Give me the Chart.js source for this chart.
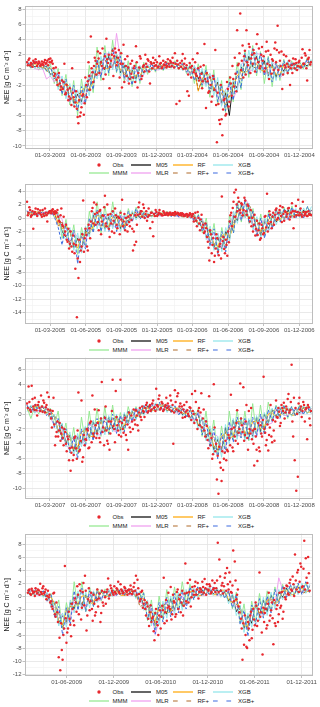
<!DOCTYPE html>
<html><head><meta charset="utf-8">
<script src="https://cdn.jsdelivr.net/npm/chart.js@4.4.1/dist/chart.umd.min.js"></script>
<style>
html,body{margin:0;padding:0;background:#fff;}
body{position:relative;width:320px;height:707px;overflow:hidden;font-family:"Liberation Sans",Arial,sans-serif;}
canvas{position:absolute;left:0;}
.lg{position:absolute;font-size:6px;line-height:8px;color:#1a1a1a;white-space:nowrap;}
.lk{position:absolute;line-height:0;font-size:0;}
.lk svg{display:block;}
</style></head><body>
<script>
// ---------------- DATA ----------------
const seriesNames = ['Obs','M05','RF','XGB','MMM','MLR','RF+','XGB+'];

// Panel 1: 2003-2004 (obs A every 4 days from 1 Jan 2003, obs B 2 days later; models every 10 days)
const p1_ticks = ['2003-03-01','2003-06-01','2003-09-01','2003-12-01','2004-03-01','2004-06-01','2004-09-01','2004-12-01'];
const p1_obs = [1.0,1.3,0.6,0.8,1.2,0.9,1.0,0.8,
0.9,0.7,0.8,1.0,0.8,1.2,1.4,
1.5,1.2,0.2,-0.5,-1.3,-1.0,-1.8,-2.2,
-2.5,0.8,-3.0,-2.6,-3.5,-3.8,0.2,
-3.6,-4.3,-5.1,-7.0,-6.1,-4.9,-3.2,-4.4,
-2.0,-1.5,-0.8,4.4,-0.3,0.5,1.2,
0.8,1.5,2.2,0.5,-1.2,1.8,4.1,0.9,
-2.4,1.2,2.5,1.8,2.3,1.0,2.6,0.8,
-2.3,3.3,1.4,-0.8,0.3,-1.2,-0.5,
-1.0,0.5,3.1,-2.3,0.3,1.5,-0.8,0.6,
2.0,0.4,1.2,-1.8,0.8,1.6,0.5,
0.6,0.3,1.8,0.9,0.4,0.7,1.0,0.5,
0.8,1.2,0.5,0.9,2.2,-4.5,0.7,-4.1,
0.4,2.1,0.8,0.2,-2.8,-3.4,0.3,
0.5,-0.3,1.0,-0.8,0.2,-1.0,-0.5,-1.5,3.4,
-5.0,-1.5,-2.8,-2.0,-3.5,-1.2,2.6,
-9.5,-4.5,-7.1,-6.5,-5.2,-3.8,-5.8,-2.5,
-4.2,-1.8,0.5,-2.2,-0.5,5.2,0.8,
7.4,1.2,-1.0,2.5,5.2,0.6,3.0,1.5,
0.8,2.2,1.5,4.7,2.8,0.5,3.0,
1.8,0.2,3.7,2.5,0.6,-0.5,1.2,2.8,
1.0,5.8,2.3,0.5,-2.5,2.0,0.3,0.8,
0.4,-2.0,0.6,1.5,0.2,0.9,0.5,
1.2,0.3,2.7,0.8,1.9,-1.4,1.6,0.7];
const p1_obsB = [0.6,1.5,0.9,0.4,1.0,1.4,0.5,1.1,
0.5,1.1,0.6,1.3,0.9,0.6,1.0,
1.0,0.8,-0.8,0.3,-2.0,-0.4,-2.6,-1.4,
-1.6,-3.2,-2.0,-4.0,-2.4,-4.6,-3.0,
-4.8,-2.8,-6.2,-4.0,-5.6,-3.4,-5.9,-1.0,
-3.6,1.0,-2.6,0.2,-1.6,1.6,-0.6,
2.4,-0.4,1.0,2.8,0.2,-0.6,1.4,2.0,
0.4,2.0,-0.8,2.8,0.6,1.6,-1.0,2.2,
0.8,-1.6,0.5,1.8,-1.8,0.8,1.2,
0.2,-1.6,1.0,-0.4,1.8,-1.2,0.4,-0.2,
0.8,1.4,-0.2,1.0,0.2,0.9,1.3,
1.0,0.4,0.8,0.2,1.2,0.6,0.3,1.4,
0.4,1.0,1.6,0.3,0.8,1.2,0.2,0.9,
1.2,0.1,1.5,0.6,-0.6,0.9,-1.0,
1.4,0.0,-0.5,2.2,-1.4,0.4,-2.4,0.6,-1.2,
-0.4,-3.0,-1.0,-4.2,-0.8,-2.6,-4.6,
-3.0,-6.6,-2.0,-8.6,-4.0,-6.0,-1.6,-4.8,
-1.0,-3.4,-1.2,1.6,-2.8,0.6,2.2,
0.0,3.2,1.8,-0.6,1.0,3.4,-0.4,2.0,
2.6,-0.2,3.4,1.0,0.2,2.0,1.2,
-0.2,2.4,0.8,-1.2,2.0,1.4,0.0,3.6,
2.6,0.0,1.2,2.4,-0.6,0.6,1.8,-0.4,
1.2,0.2,-0.4,0.8,1.4,0.0,1.0,
0.4,1.6,0.8,2.2,0.2,1.4,2.6,1.0];
const p1_xgbp = [1.1,0.3,1.2,0.2,0.8,-0.1,0.4,-1.2,-0.4,-3.2,
-1.2,-4.2,-2.0,-5.4,-2.2,-4.4,-0.6,-2.6,1.4,-1.0,
2.2,-0.4,2.8,-0.2,1.8,-1.2,0.6,-2.0,0.4,-1.4,
0.8,-0.4,0.8,-0.1,0.7,0.0,1.0,0.3,1.0,0.1,
0.8,-0.3,0.6,-1.4,0.4,-2.0,0.0,-3.0,-0.6,-4.2,
-2.0,-5.4,-1.6,-4.0,0.0,-2.4,2.2,-0.6,2.8,-0.4,
2.2,-0.8,1.6,-1.6,1.0,-1.0,1.2,-0.4,1.0,0.0,
1.0,0.2,1.4,0.6];
const p1_xgb = [0.4,1.1,0.2,0.9,0.0,0.7,-0.9,0.3,-2.6,-0.8,
-3.8,-1.8,-4.8,-2.6,-4.6,-1.6,-3.4,0.2,-1.2,1.8,
-0.6,2.4,0.0,2.2,-0.8,1.0,-1.6,0.4,-1.6,0.6,
-0.6,0.7,-0.1,0.7,0.0,0.8,0.2,1.1,0.2,0.9,
-0.1,0.6,-0.8,0.6,-1.6,0.2,-2.2,-0.4,-3.4,-1.0,
-4.8,-2.6,-4.4,-1.2,-3.0,0.8,-0.8,2.6,-0.2,2.4,
-0.4,1.8,-1.2,1.2,-1.4,0.8,-0.6,1.2,-0.1,0.9,
0.1,1.0,0.3,1.4];
const p1_mmm = [0.9,0.2,1.0,0.0,0.8,-0.2,0.8,-1.8,0.2,-3.4,
-0.6,-4.6,-1.4,-6.0,-1.2,-4.6,0.6,-3.0,3.0,-1.4,
3.2,-0.8,3.9,-0.4,2.4,-1.6,1.2,-2.2,1.0,-1.8,
1.0,-0.6,1.1,-0.3,0.9,-0.1,1.1,0.2,1.2,0.0,
1.0,-0.5,0.9,-1.8,0.8,-2.4,0.6,-3.6,0.0,-4.6,
-1.4,-5.6,-0.8,-4.2,1.0,-2.6,2.6,-1.0,3.2,-0.8,
2.4,-1.8,1.8,-2.2,1.2,-1.4,1.4,-0.6,1.2,-0.1,
1.2,0.1,1.6,0.4];
const p1_m05 = [0.6,0.9,0.4,0.7,0.2,0.5,-0.6,-0.3,-2.2,-1.2,
-3.4,-2.2,-4.4,-3.2,-4.2,-2.0,-2.8,-0.2,-0.8,1.2,
0.0,1.8,0.4,1.8,-0.4,0.6,-1.2,0.0,-1.2,0.4,
-0.4,0.5,0.0,0.6,0.1,0.7,0.3,0.9,0.3,0.7,
0.1,0.4,-0.6,0.3,-1.2,-0.2,-1.8,-0.8,-2.8,-1.6,
-4.4,-3.0,-6.0,-1.6,-2.4,0.4,-0.4,1.8,0.4,1.8,
0.0,1.2,-0.8,0.8,-1.0,0.6,-0.2,1.0,0.0,0.8,
0.2,0.9,0.5,1.2];
const p1_mlr = [0.9,0.6,0.2,0.0,0.2,-1.2,-0.8,-1.6,-0.6,-1.2,
-3.4,-4.2,-2.6,-2.8,-4.6,-3.8,-1.0,0.0,-0.8,-0.6,
2.0,2.2,0.2,4.8,1.4,-1.0,-1.6,0.4,0.2,-1.4,
-0.6,0.6,0.8,0.0,0.0,0.7,0.9,0.4,0.3,0.8,
0.8,-0.2,-0.5,0.4,0.0,-1.6,-2.0,-0.6,-1.0,-3.4,
-4.6,-2.6,-2.0,-3.8,-2.6,0.6,1.4,-0.2,0.0,2.2,
2.0,-0.4,-0.6,1.0,0.6,-1.0,-0.6,1.2,0.9,0.0,
0.1,0.9,1.1,0.6];
const p1_rf = [0.6,0.5,0.8,0.7,0.3,0.1,0.2,-0.4,-2.0,-2.6,
-1.8,-2.2,-4.0,-4.4,-2.8,-2.2,-2.6,-1.6,0.4,1.0,
0.2,0.2,1.6,1.4,0.0,-0.4,0.0,-0.2,-0.8,-0.8,
0.2,0.4,0.1,0.1,0.5,0.6,0.4,0.4,0.7,0.7,
0.3,0.1,0.3,0.1,-2.8,-1.2,-0.4,-0.8,-2.6,-3.0,
-2.6,-3.0,-3.6,-2.2,-0.8,-0.2,-0.4,0.0,0.8,0.8,
0.0,-0.2,0.4,0.4,-0.6,-0.6,0.6,0.6,0.2,0.2,
0.6,0.6,0.4,0.8];
const p1_rfp = [1.0,0.5,0.3,0.7,0.6,0.0,-0.6,-0.5,-1.8,-2.4,
-1.8,-3.6,-4.0,-3.2,-3.0,-3.6,-1.4,-0.4,-0.8,1.2,
1.4,0.2,0.4,2.0,1.0,-0.8,0.2,-1.2,-1.0,0.2,
0.4,-0.1,0.3,0.7,0.2,0.2,0.8,0.9,0.4,0.3,
0.6,0.2,-0.3,0.1,-2.6,-1.4,-0.4,-2.4,-2.6,-1.6,
-3.0,-4.6,-3.4,-1.6,-1.0,-1.2,1.0,1.6,0.4,0.2,
1.4,1.0,-0.4,-0.6,0.4,0.6,-0.2,0.2,0.8,0.6,
0.2,0.4,1.0,0.9];

// Panel 2: 2005-2006
const p2_ticks = ['2005-03-01','2005-06-01','2005-09-01','2005-12-01','2006-03-01','2006-06-01','2006-09-01','2006-12-01'];
const p2_obs = [2.4,0.8,1.2,0.4,-1.6,0.9,0.6,1.3,
0.7,0.5,1.2,0.3,0.8,-0.5,0.9,
1.0,1.1,0.9,1.0,0.8,0.2,-0.6,1.4,
-1.2,-2.5,-1.0,-3.5,-4.5,-2.0,-5.0,
-3.8,-7.5,-14.7,-8.9,-6.5,-4.2,2.6,-3.0,
-2.5,-4.8,-1.5,-0.5,1.5,2.3,-1.0,
0.8,-1.8,1.2,-0.5,0.3,3.3,-1.2,0.5,
-2.8,-0.8,1.0,-2.2,0.4,-1.5,0.0,0.8,
2.7,-0.5,-1.8,-1.0,0.2,-1.2,-0.3,
-4.8,-4.0,-3.5,0.5,2.3,1.0,0.2,1.5,
0.6,-0.4,1.4,-1.5,0.8,-2.7,0.3,
0.9,0.5,1.2,0.6,0.4,0.8,0.5,0.7,
0.6,0.8,0.5,0.7,0.9,0.6,0.7,0.5,
0.4,0.6,0.3,0.5,0.2,0.4,0.6,
0.3,-0.5,0.8,-1.2,0.0,-1.8,0.5,-1.0,
-2.0,-1.5,-3.5,-6.3,-2.4,-4.0,-6.5,
-4.5,-3.0,-5.5,-3.8,3.2,-2.8,-5.2,-4.0,
-2.0,-0.5,0.8,1.5,3.8,4.2,1.0,
2.4,0.8,2.0,1.2,2.6,0.5,1.8,-0.5,
-1.2,-2.0,0.5,-1.6,-2.5,-0.8,-3.0,-1.5,
-2.2,0.3,3.6,-0.8,0.5,-1.5,0.8,
0.5,1.4,0.0,1.2,0.3,1.6,-0.4,0.9,
0.6,1.5,0.2,2.2,-1.5,1.0,0.4,
2.7,0.8,0.5,2.4,0.4,0.9,0.3,0.6,0.5];
const p2_obsB = [0.4,1.6,0.2,1.0,0.6,1.4,0.3,0.8,
1.1,0.2,0.6,1.4,0.4,0.7,1.0,
0.7,1.3,0.6,0.9,1.2,-0.4,0.4,-1.0,
0.2,-2.0,-3.2,-1.6,-3.8,-4.2,-2.6,
-5.2,-4.0,-6.0,-3.2,-4.8,-2.4,-5.0,-1.6,
-4.2,-1.0,-3.0,1.0,-0.8,0.6,2.0,
-0.6,1.0,-2.4,0.4,1.6,-0.8,2.0,-1.6,
0.6,-2.0,-0.4,1.4,-1.0,0.2,-2.4,-0.2,
-1.2,0.6,0.0,-2.0,-0.6,0.4,-1.6,
-2.0,0.4,-1.0,1.6,0.6,1.0,2.0,0.0,
1.0,0.2,0.4,0.8,-0.6,0.6,1.2,
0.3,0.8,0.6,0.4,1.0,0.5,0.8,0.4,
0.8,0.5,0.7,0.4,0.6,0.8,0.5,0.7,
0.7,0.3,0.5,0.6,0.4,0.7,0.2,
0.6,0.0,-0.4,0.9,-0.8,-0.2,-1.4,-2.2,
-0.8,-2.8,-4.4,-1.8,-5.2,-3.0,-5.6,
-2.4,-5.0,-4.2,-6.0,-3.4,-4.6,-3.2,-5.6,
-3.6,0.4,-1.2,2.4,0.2,2.0,3.0,
1.2,2.2,0.4,3.0,1.0,2.0,0.0,1.2,
0.0,-1.0,-2.6,-0.4,-1.8,-3.2,-1.0,-2.4,
0.2,-1.4,-2.0,1.0,-0.6,0.2,-1.0,
1.2,-0.2,0.8,1.8,-0.6,0.6,1.0,0.2,
1.4,-0.2,0.8,1.0,0.2,1.8,0.9,
0.4,1.4,0.2,0.9,0.6,0.3,1.0,0.5,0.4];
const p2_xgbp = [1.1,0.3,1.0,0.4,1.0,0.4,1.2,0.2,-1.4,-4.0,
-0.8,-4.2,-1.8,-6.8,-2.2,-4.6,0.0,-2.2,1.2,-2.0,
0.6,-2.0,1.0,-2.0,0.4,-1.8,1.0,-0.6,1.4,-0.2,
0.8,0.0,0.9,0.2,0.9,0.3,0.9,0.2,0.8,0.1,
0.7,0.0,0.6,-0.6,0.4,-2.0,-0.6,-4.2,-1.6,-5.4,
-2.0,-5.0,-0.4,-2.2,2.2,-0.4,2.8,-0.8,1.0,-2.8,
0.0,-3.0,0.6,-1.6,1.2,-0.6,1.4,-0.2,1.6,0.0,
1.4,0.0,1.7,0.3];
const p2_xgb = [0.5,1.0,0.3,1.0,0.3,1.0,0.5,1.0,0.6,-2.4,
-3.2,-1.4,-4.8,-2.2,-5.2,-1.2,-2.8,1.0,-1.6,1.0,
-2.0,0.6,-1.6,0.8,-2.0,0.6,-1.0,1.1,-0.3,1.2,
0.0,0.8,0.1,0.9,0.3,0.9,0.3,0.8,0.2,0.7,
0.1,0.6,-0.1,0.6,-1.2,0.0,-3.2,-1.2,-4.8,-2.2,
-5.0,-1.4,-3.4,1.0,-0.8,2.4,0.0,2.2,-1.8,0.2,
-3.0,0.0,-2.0,0.8,-1.0,1.2,-0.4,1.6,0.0,1.4,
0.0,1.5,0.2,1.7];
const p2_mmm = [0.9,0.3,0.9,0.4,1.0,0.4,1.2,0.1,0.8,-3.0,
-0.2,-4.4,-1.0,-5.4,-1.4,-4.2,1.0,-2.0,2.4,-2.2,
1.8,-1.8,2.4,-1.8,1.2,-1.8,1.4,-0.4,1.6,0.0,
1.0,0.0,1.1,0.2,1.0,0.3,1.0,0.3,0.8,0.2,
0.7,0.1,0.6,-0.6,0.6,-2.2,0.0,-3.8,-0.8,-5.0,
-1.4,-4.6,0.4,-2.2,2.4,-0.6,2.8,-0.8,1.4,-2.6,
0.6,-2.6,1.0,-1.4,1.4,-0.6,1.6,-0.2,1.8,0.1,
1.4,0.2,1.7,0.4];
const p2_m05 = [0.7,0.9,0.5,0.9,0.4,0.9,0.7,0.8,0.4,-2.0,
-2.8,-1.8,-4.4,-3.0,-4.6,-1.8,-2.4,0.4,-1.0,0.4,
-1.6,0.2,-1.2,0.2,-1.6,0.2,-0.6,0.8,0.0,0.9,
0.2,0.6,0.3,0.7,0.4,0.8,0.4,0.7,0.3,0.6,
0.2,0.5,0.0,0.4,-1.0,-0.4,-2.8,-1.8,-4.4,-2.8,
-4.6,-2.0,-3.0,0.4,-0.4,2.0,0.2,1.8,-1.4,-0.2,
-2.6,-0.4,-1.6,0.4,-0.6,1.0,-0.2,1.2,0.2,1.0,
0.2,1.2,0.3,1.2];
const p2_mlr = [1.0,0.7,0.4,0.4,0.8,0.9,0.6,0.5,0.6,-0.2,
-2.6,-3.6,-2.2,-2.8,-4.6,-3.6,-0.8,0.2,-1.0,-1.2,
0.2,0.4,-1.2,-1.4,0.2,0.2,-0.8,-0.2,0.9,1.0,
0.1,0.1,0.7,0.8,0.3,0.3,0.8,0.8,0.3,0.2,
0.6,0.6,0.0,-0.2,0.2,-0.2,-2.8,-3.6,-2.6,-2.4,
-4.4,-4.2,-1.0,0.6,0.0,0.0,2.8,2.0,-1.4,-2.2,
-0.6,-0.4,-1.8,-1.4,0.6,0.8,-0.2,-0.1,1.2,1.2,
0.2,0.3,1.0,1.0];
const p2_rf = [0.6,0.6,0.9,0.9,0.4,0.4,1.0,1.0,-0.8,-1.6,
-1.2,-2.0,-4.0,-4.4,-2.8,-2.2,-2.2,-1.2,0.4,0.2,
-1.4,-1.2,0.2,0.0,-1.2,-1.0,0.4,0.6,0.2,0.2,
0.5,0.5,0.3,0.3,0.7,0.7,0.4,0.4,0.6,0.6,
0.2,0.2,0.4,0.4,-0.8,-1.4,-1.4,-2.2,-3.8,-4.2,
-2.6,-2.4,-2.8,-1.2,1.0,1.4,0.4,0.2,0.2,-0.4,
-2.0,-1.8,-0.2,0.2,-0.4,-0.2,0.8,0.8,0.4,0.4,
0.8,0.8,0.4,0.5];
const p2_rfp = [1.0,0.4,0.5,0.9,0.8,0.5,0.7,0.9,-1.2,-0.6,
-2.8,-3.6,-2.6,-3.2,-4.4,-2.0,-2.2,0.2,-0.8,-1.2,
0.0,-0.2,-1.0,0.2,-0.2,-1.2,-0.4,0.8,0.8,0.0,
0.6,0.3,0.3,0.8,0.7,0.4,0.4,0.8,0.7,0.2,
0.2,0.6,0.5,-0.2,-1.0,-0.4,-1.2,-3.6,-4.2,-2.8,
-3.2,-4.4,-1.2,-1.0,1.6,0.4,0.0,2.0,0.6,-2.0,
-2.4,-0.2,-0.4,-1.2,0.6,0.8,-0.2,0.6,1.2,0.4,
0.2,1.0,0.8,0.4];

// Panel 3: 2007-2008
const p3_ticks = ['2007-03-01','2007-06-01','2007-09-01','2007-12-01','2008-03-01','2008-06-01','2008-09-01','2008-12-01'];
const p3_obs = [1.4,3.7,0.6,3.8,1.0,2.2,0.5,1.2,
0.8,2.5,0.3,1.5,0.9,2.9,2.3,
0.5,-1.8,2.2,-4.2,-2.4,-3.0,-1.2,-2.6,
-3.2,-2.0,-4.0,-3.0,-6.2,-7.6,-4.5,
-5.5,-3.0,-6.0,2.9,-4.8,1.8,-5.8,-4.2,
-3.5,-2.2,-4.5,-1.0,2.5,-3.0,-1.5,
-2.6,0.5,-3.8,4.3,-1.8,-0.5,-2.2,-4.0,
-4.8,-1.0,4.6,-2.0,3.1,-1.5,-2.8,4.6,
-1.2,-2.5,-0.5,-3.5,-4.8,-1.8,-0.2,
-2.0,-0.8,0.5,-1.5,0.2,-0.4,1.0,0.3,
0.8,1.5,0.4,1.2,0.6,1.8,0.9,
3.4,1.0,2.5,0.8,1.4,0.6,1.2,0.8,
1.0,2.5,0.4,-4.0,3.2,0.6,2.8,1.0,
0.2,-0.5,1.2,0.3,0.5,-0.3,0.8,
2.7,0.0,3.1,-0.8,0.4,-1.5,2.8,-0.6,
-2.2,-1.0,-3.5,2.4,-4.2,-6.0,4.0,-5.0,
-8.8,-10.7,-6.5,-9.0,-7.5,-5.2,-6.2,
-5.0,-3.2,2.6,-4.5,-1.8,-3.6,0.5,-2.5,
4.1,-1.5,3.6,-2.8,1.2,-4.8,-2.0,0.8,
-2.2,-6.9,-3.0,-6.3,-4.5,-1.5,-3.0,
5.0,-2.5,-3.5,-4.9,-1.8,-3.0,-0.8,-3.6,
1.8,-0.5,0.3,-1.2,0.8,1.5,0.2,0.6,
2.7,0.5,6.6,-3.0,-6.2,-10.3,-8.4,
2.2,1.0,0.4,1.2,0.6,-3.4,0.9,-1.5];
const p3_obsB = [0.8,1.6,0.3,2.0,0.6,1.2,-0.2,1.6,
0.4,1.0,1.8,0.2,1.2,0.6,0.0,
-0.6,0.4,-1.4,-3.0,-1.0,-2.2,-3.6,-1.8,
-4.2,-2.4,-5.0,-3.4,-4.6,-5.2,-6.2,
-3.2,-4.6,-2.2,-5.0,-3.6,-6.4,-2.8,-3.4,
-2.0,-4.6,-1.2,-3.8,-2.6,0.6,-3.2,
-1.2,-3.2,-0.6,-2.4,-4.2,1.0,-3.6,-1.0,
-2.6,0.4,-1.6,-3.8,-0.4,-2.2,-1.0,-3.0,
-2.0,-0.8,-2.8,-1.4,0.2,-2.4,-1.0,
0.6,-1.4,-0.2,-2.2,0.8,-0.8,0.4,-0.4,
1.2,0.2,1.0,0.4,1.4,0.8,0.4,
1.2,2.0,0.6,1.6,0.4,1.0,2.2,1.4,
0.6,1.8,1.2,0.2,1.6,2.4,0.4,1.4,
1.0,0.6,-0.4,1.6,0.0,0.9,-0.8,
0.4,-1.2,1.6,-2.0,0.8,0.2,-1.8,0.6,
-3.0,-1.6,-4.6,-2.6,-3.2,-5.4,-1.8,-4.0,
-5.6,-4.4,-7.2,-5.0,-6.0,-3.6,-4.8,
-2.8,-4.2,-2.0,-5.0,-3.0,-1.2,-4.0,-2.0,
-0.6,-2.4,-3.6,-1.0,-3.2,0.4,-2.6,-3.4,
-4.0,-2.0,-4.8,-1.2,-5.0,-2.6,-0.8,
-2.0,-4.2,-1.4,-2.8,1.2,-3.8,-2.2,-1.0,
-0.4,0.8,-1.6,1.2,0.4,-0.6,1.0,2.0,
0.2,1.6,-1.0,2.2,0.8,0.0,1.4,
0.6,-0.4,1.6,-1.0,0.8,1.2,-0.6,0.4];
const p3_xgbp = [1.2,0.2,1.3,0.4,1.0,-0.2,0.6,-1.8,-0.6,-3.6,
-2.0,-5.2,-3.0,-6.0,-2.0,-4.4,-1.0,-3.6,-0.6,-2.8,
-0.2,-2.6,0.0,-2.6,-0.2,-2.4,0.4,-1.0,0.8,-0.4,
1.2,0.0,1.4,0.3,1.6,0.3,1.3,0.2,1.1,-0.1,
0.8,-0.5,0.6,-1.2,0.2,-2.8,-0.8,-4.4,-2.0,-6.0,
-2.6,-5.2,-1.0,-3.8,-0.4,-3.2,-0.6,-3.4,-0.4,-3.0,
0.0,-2.8,0.6,-1.0,1.0,-0.6,1.2,-0.4,1.0,-0.3,
1.1,-0.1,1.0,0.1];
const p3_xgb = [0.3,1.2,0.1,1.3,0.1,1.0,-0.8,0.0,-2.6,-1.2,
-4.4,-2.4,-5.6,-2.6,-4.4,-1.6,-3.6,-0.8,-3.0,-0.4,
-2.8,-0.2,-2.4,0.0,-2.6,0.2,-1.4,0.6,-0.8,1.0,
-0.2,1.3,0.2,1.5,0.4,1.4,0.2,1.2,0.1,0.9,
-0.3,0.7,-0.8,0.4,-2.0,-0.4,-3.6,-1.6,-5.4,-3.0,
-5.8,-1.4,-4.0,-0.6,-3.4,-0.4,-3.6,-0.6,-3.4,-0.2,
-2.8,0.2,-1.4,0.8,-0.6,1.0,-0.2,0.9,-0.3,0.9,
-0.1,1.1,0.0,1.0];
const p3_mmm = [0.9,-0.6,1.1,0.0,1.2,0.0,0.8,-1.6,0.4,-3.4,
-1.2,-5.0,-1.8,-5.4,-0.4,-4.0,0.4,-3.4,0.8,-3.0,
1.0,-2.8,1.2,-2.4,0.2,-2.2,1.0,-0.8,1.0,-0.2,
1.1,0.1,1.3,0.4,1.4,0.3,1.2,0.2,1.0,-0.1,
0.7,-0.4,0.6,-1.0,0.8,-3.0,0.4,-4.0,-0.8,-5.6,
-1.6,-4.8,0.4,-3.4,0.6,-3.2,0.4,-3.6,1.4,-2.8,
1.2,-2.4,1.6,-0.8,1.2,-0.4,1.2,-0.6,1.0,-0.2,
1.2,0.0,1.1,0.1];
const p3_m05 = [0.6,1.0,0.4,1.1,0.3,0.8,-0.5,-0.2,-2.4,-1.4,
-4.0,-2.8,-5.0,-3.0,-4.0,-1.8,-3.2,-1.0,-2.6,-0.6,
-2.4,-0.4,-2.0,-0.2,-2.2,0.0,-1.2,0.4,-0.6,0.8,
0.0,1.1,0.4,1.3,0.6,1.2,0.4,1.0,0.3,0.7,
-0.1,0.5,-0.6,0.2,-1.6,-0.6,-3.2,-2.0,-4.8,-3.4,
-5.0,-1.8,-3.6,-0.8,-3.0,-0.6,-3.2,-0.8,-3.0,-0.4,
-2.4,0.0,-1.2,0.6,-0.4,0.8,0.0,0.7,-0.2,0.7,
0.1,0.9,0.1,0.8];
const p3_mlr = [1.0,0.6,0.2,0.4,1.0,0.8,-0.6,-1.4,-1.0,-2.0,
-4.2,-4.6,-3.4,-3.0,-4.0,-3.6,-1.4,-1.6,-2.8,-2.8,
-0.6,-0.8,-2.2,-2.4,-0.4,-0.6,-1.4,-1.0,0.6,0.6,
0.2,0.2,1.2,1.2,0.6,0.6,1.2,1.1,0.2,0.1,
0.7,0.5,-0.6,-0.8,0.2,-0.6,-3.4,-3.8,-2.6,-3.0,
-5.0,-4.4,-1.6,-1.8,-2.8,-3.0,-0.8,-1.2,-2.8,-3.0,
-0.4,-0.6,-1.4,-1.2,0.6,0.6,-0.2,-0.2,0.6,0.6,
0.0,0.2,0.8,0.7];
const p3_rf = [0.5,0.4,1.0,1.0,0.4,0.2,0.4,-0.2,-2.2,-2.8,
-2.4,-3.0,-4.8,-4.6,-2.4,-2.2,-3.0,-3.0,-1.0,-1.0,
-2.2,-2.0,-0.6,-0.6,-2.0,-1.6,0.0,0.2,-0.4,-0.2,
0.8,0.8,0.5,0.5,1.2,1.2,0.5,0.5,0.8,0.8,
0.1,0.1,0.4,0.3,-1.4,-1.8,-1.4,-2.2,-4.4,-4.8,
-3.0,-2.6,-3.2,-3.0,-1.0,-1.0,-2.6,-2.6,-1.0,-1.0,
-2.0,-1.8,0.0,0.2,-0.4,-0.2,0.8,0.7,-0.2,-0.1,
0.8,0.8,0.2,0.3];
const p3_rfp = [1.1,0.3,0.4,1.0,0.9,0.2,-0.6,-0.2,-1.0,-3.0,
-3.8,-3.0,-3.4,-4.4,-3.8,-2.0,-1.8,-2.8,-2.4,-1.0,
-1.0,-2.0,-1.8,-0.6,-0.8,-1.6,-1.0,0.4,0.4,-0.2,
0.2,0.9,1.0,0.5,0.6,1.3,1.1,0.3,0.4,0.8,
0.6,-0.2,-0.4,0.2,-0.2,-2.2,-2.8,-2.4,-3.2,-4.8,
-4.6,-2.4,-2.0,-3.0,-2.4,-1.0,-1.4,-2.8,-2.4,-0.8,
-1.0,-1.8,-1.2,0.4,0.6,-0.2,0.0,0.8,0.6,-0.1,
0.2,0.9,0.8,0.2];

// Panel 4: 2009-2011 (obs A every 6 days from 1 Jan 2009, obs B 3 days later; models every 15 days)
const p4_ticks = ['2009-06-01','2009-12-01','2010-06-01','2010-12-01','2011-06-01','2011-12-01'];
const p4_obs = [0.5,1.0,0.2,0.8,0.6,1.2,
0.4,0.9,1.9,0.3,
1.5,0.6,-0.5,0.8,0.2,
-0.8,-2.0,0.5,-3.2,-2.5,
-9.4,-11.4,-8.3,-6.0,4.6,-7.2,
-5.0,-3.5,-6.2,-2.0,-4.5,
-1.0,1.5,-2.8,0.8,-1.8,
2.0,3.1,-5.3,-0.5,-2.2,
0.5,-3.8,-1.2,-2.5,1.0,
-0.4,-4.0,0.8,-1.5,-0.2,
0.6,2.7,0.2,1.2,0.5,
1.5,0.4,1.0,0.6,1.8,
0.8,0.5,1.2,0.6,0.9,0.4,
1.0,0.7,2.0,3.1,
2.5,0.3,-0.5,0.8,-1.2,
-2.0,-1.0,-3.5,-2.5,-4.0,
-3.2,-6.8,-2.0,-4.5,-3.0,
-5.0,-1.5,2.8,-2.5,-3.8,
0.5,-2.0,-3.6,0.2,-1.0,-2.8,
1.0,-0.5,-2.5,0.8,-1.5,
5.0,0.5,-1.0,2.5,-0.2,
0.8,1.5,0.2,2.0,0.6,
1.0,2.2,0.5,1.2,1.8,
0.8,1.5,0.6,1.0,2.0,
1.2,8.2,5.6,0.8,2.0,
1.5,3.5,4.3,1.0,2.2,
0.5,7.0,5.3,-0.5,1.0,
-2.5,-3.5,-9.8,-7.5,-6.0,
-8.0,-5.0,-3.0,-6.5,-2.0,-4.5,
-1.5,-3.8,3.6,-2.5,-9.0,
-4.0,-2.0,-4.5,0.5,-3.0,
-1.0,-7.4,-4.2,-2.0,-4.0,
0.5,-1.5,-3.5,1.2,-0.5,
1.5,0.2,2.5,0.8,1.8,
6.4,1.0,4.0,2.2,4.5,
1.5,8.5,5.8,2.0,3.5];
const p4_obsB = [0.9,0.3,1.1,0.5,0.0,0.7,
1.0,0.2,0.6,1.2,
0.4,1.0,0.0,-0.2,-1.0,
-1.6,0.4,-2.8,-1.0,-4.0,
-6.4,-4.2,-9.8,-5.0,-3.4,-5.6,
-2.4,-4.4,-1.2,-3.8,-0.4,
-2.4,0.2,1.8,-3.6,0.6,
-1.4,0.8,-3.0,1.2,-0.8,
-2.0,0.2,-3.0,-0.6,-1.6,
0.4,-2.6,-1.0,0.6,-1.2,
1.0,-0.4,1.6,0.8,0.2,
0.6,1.2,2.2,0.4,1.0,
0.4,1.4,0.8,0.2,1.0,1.6,
0.3,1.4,0.8,0.2,
1.2,-0.8,0.6,-1.8,-0.6,
-3.0,-1.6,-4.6,-1.4,-3.4,
-5.4,-2.6,-4.0,-6.0,-2.2,
-3.2,-2.2,-4.2,-0.6,-1.8,
-1.6,1.4,-2.8,-0.8,-3.2,0.6,
-2.0,0.2,-1.0,-3.0,0.4,
-0.8,2.0,0.6,-1.6,1.4,
0.2,2.2,1.0,-0.4,1.2,
0.6,1.4,2.6,0.2,1.0,
1.8,0.4,2.4,1.2,0.6,
2.4,0.6,3.0,1.6,0.4,
2.8,0.8,1.8,3.6,0.6,
1.6,-0.8,2.4,0.2,-1.6,
-1.0,-5.0,-4.2,-3.0,-7.8,
-4.0,-6.8,-2.4,-5.2,-3.6,-1.0,
-4.6,-2.0,-3.2,-5.6,-1.8,
-2.6,-5.0,-1.2,-3.8,-2.2,
-3.4,-0.6,-4.6,-1.4,-2.8,
-1.8,0.6,-2.4,-0.2,1.6,
0.4,2.0,1.0,3.0,0.0,
2.4,3.6,0.6,5.0,1.4,
4.2,1.0,2.8,6.0,0.8];
const p4_xgbp = [0.9,0.2,1.0,0.0,0.8,-0.8,0.2,-3.4,-1.6,-6.0,
-1.8,-4.4,0.8,-2.2,1.2,-2.4,0.8,-1.6,0.8,-0.6,
0.9,-0.1,1.0,0.1,1.1,0.2,1.1,0.1,1.0,-1.0,
0.4,-3.6,-1.4,-5.8,-1.0,-4.0,-0.2,-3.2,0.4,-2.6,
0.8,-2.0,1.4,-0.6,1.4,0.1,1.3,0.2,1.4,0.1,
1.1,-0.4,0.8,-1.8,0.2,-4.4,-2.2,-6.2,-1.4,-4.4,
-0.4,-3.4,0.0,-2.6,1.0,-1.2,1.6,-0.2,1.8,0.0,
2.0,0.2,2.2,0.4];
const p4_xgb = [0.2,1.0,0.1,0.9,-0.2,0.6,-1.8,-0.8,-4.6,-2.6,
-4.8,-0.6,-2.6,0.8,-2.2,0.6,-1.8,0.8,-1.0,1.0,
-0.3,1.0,-0.1,1.1,0.1,1.1,0.2,1.0,-0.4,0.8,
-2.2,-0.6,-4.6,-2.2,-4.4,-0.8,-3.4,0.0,-2.8,0.6,
-2.2,1.0,-1.0,1.2,-0.2,1.3,0.2,1.4,0.1,1.3,
-0.2,1.0,-1.2,0.4,-3.0,-1.4,-5.6,-2.6,-4.8,-1.0,
-3.8,-0.2,-3.0,0.6,-2.0,1.0,-0.6,1.6,0.0,1.8,
0.2,2.0,0.4,1.8];
const p4_mmm = [0.7,0.1,0.9,0.2,0.8,-0.6,0.4,-3.0,-0.6,-5.0,
-1.0,-3.8,2.2,-2.0,2.2,-2.4,1.4,-1.6,1.2,-0.8,
1.1,-0.1,1.1,0.1,1.1,0.2,1.1,0.1,0.8,-0.6,
0.6,-3.8,-0.6,-5.0,0.0,-3.6,1.0,-2.8,1.4,-2.2,
2.2,-1.2,1.8,-0.4,1.4,0.1,1.2,0.3,1.2,0.2,
1.0,-0.2,0.6,-2.0,0.6,-4.2,-1.2,-5.4,-0.8,-4.0,
0.4,-3.2,0.8,-2.4,1.4,-1.0,1.8,-0.2,1.6,0.2,
1.8,0.4,2.0,0.5];
const p4_m05 = [0.3,0.9,0.2,0.7,0.0,0.4,-1.4,-1.0,-4.2,-3.0,
-4.2,-1.0,-2.0,0.4,-1.6,0.2,-1.2,0.6,-0.6,0.8,
-0.1,0.8,0.1,0.9,0.2,0.9,0.3,0.8,-0.2,0.5,
-1.6,-1.0,-4.0,-2.6,-3.8,-1.2,-2.8,-0.4,-2.2,0.2,
-1.6,0.6,-0.6,0.9,0.1,1.0,0.3,1.1,0.3,1.0,
0.0,0.7,-0.8,0.2,-2.4,-1.6,-5.0,-3.0,-4.2,-1.2,
-3.0,-0.6,-2.4,0.2,-1.4,0.6,-0.2,1.2,0.3,1.4,
0.5,1.5,0.6,1.5];
const p4_mlr = [0.8,0.7,0.2,0.1,0.6,0.4,-1.4,-1.8,-2.4,-3.0,
-4.2,-3.4,-0.2,0.2,-1.6,-1.6,0.4,0.2,-0.8,-0.6,
0.7,0.8,0.0,0.1,0.8,0.9,0.2,0.1,0.7,-0.6,
-1.6,-1.2,-2.0,-6.0,-3.6,-1.2,-1.0,-2.6,-2.2,0.0,
0.0,-1.4,-0.8,0.8,1.0,0.2,0.1,1.0,1.0,0.2,
0.1,0.9,0.6,-1.2,-1.6,-2.0,-4.4,-5.0,-2.4,-1.6,
-2.8,-3.0,-0.6,-0.4,-1.4,2.8,1.0,0.0,0.4,1.4,
1.4,0.6,0.6,1.6];
const p4_rf = [0.4,0.4,0.8,0.8,0.1,0.0,-0.2,-1.2,-4.0,-4.4,
-2.2,-1.6,-1.6,-1.2,0.0,0.0,-1.2,-1.0,0.6,0.6,
-0.1,0.0,0.8,0.8,0.1,0.1,0.8,0.7,-0.1,-0.3,
-0.4,-1.0,-3.6,-3.8,-1.8,-1.6,-2.6,-2.4,-0.6,-0.4,
-1.4,-1.2,0.6,0.8,0.0,0.1,1.0,1.0,0.2,0.2,
0.9,0.9,-0.6,-1.0,-0.6,-2.0,-4.6,-4.6,-2.0,-1.6,
-2.6,-2.6,-0.6,-0.4,-1.2,-0.8,0.8,0.8,0.2,0.2,
1.2,1.2,0.6,0.8];
const p4_rfp = [0.8,0.4,0.2,0.7,0.6,-0.6,-1.2,-1.2,-2.6,-4.8,
-3.8,-1.4,-0.6,-1.2,-1.2,0.0,-0.2,-0.8,-0.6,0.6,
0.6,0.0,0.1,0.9,0.8,0.1,0.3,0.9,0.6,-1.6,
-1.4,-1.2,-2.4,-4.4,-3.4,-1.4,-1.2,-2.4,-2.0,-0.2,
-0.4,-1.2,-0.6,0.6,0.9,0.2,0.2,1.1,1.0,0.2,
0.2,0.8,0.6,-1.0,-1.2,-2.2,-4.4,-4.8,-2.2,-1.6,
-2.8,-2.4,-0.8,-0.6,-1.2,0.4,0.8,0.2,0.4,1.4,
1.4,0.4,0.6,1.6];

// ---------------- STYLE / LAYOUT ----------------
const seriesStyle = {
  'Obs': {color:'#e8282e', kind:'point'},
  'MMM': {color:'#8fe88b', kind:'line'},
  'M05': {color:'#000000', kind:'line'},
  'MLR': {color:'#ee99ee', kind:'line'},
  'RF':  {color:'#ffa500', kind:'line'},
  'RF+': {color:'#b06a2a', kind:'dash'},
  'XGB': {color:'#8de4ea', kind:'line'},
  'XGB+':{color:'#3d6be0', kind:'dash'}
};
const drawOrder = ['Obs','XGB+','XGB','RF+','RF','MLR','MMM','M05'];
const legendRows = [['Obs','M05','RF','XGB'],['MMM','MLR','RF+','XGB+']];
const legendKeyX = [88.5,130.5,173,213];
const legendTextX = [112.5,156,197.5,238];

const panels = [
  {start:2003, ticks:p1_ticks, obs:p1_obs, obsB:p1_obsB, obsStep:4, modStep:10,
   models:{'MMM':p1_mmm,'M05':p1_m05,'MLR':p1_mlr,'RF':p1_rf,'RF+':p1_rfp,'XGB':p1_xgb,'XGB+':p1_xgbp},
   xmin:-6.5, xmax:735, ymin:-10.4, ymax:8.45, canvasTop:1, areaTop:2, areaBottom:149, legY:[164.5,173]},
  {start:2005, ticks:p2_ticks, obs:p2_obs, obsB:p2_obsB, obsStep:4, modStep:10,
   models:{'MMM':p2_mmm,'M05':p2_m05,'MLR':p2_mlr,'RF':p2_rf,'RF+':p2_rfp,'XGB':p2_xgb,'XGB+':p2_xgbp},
   xmin:-6.5, xmax:734, ymin:-15.7, ymax:5.1, canvasTop:179, areaTop:180, areaBottom:324, legY:[340.5,349.5]},
  {start:2007, ticks:p3_ticks, obs:p3_obs, obsB:p3_obsB, obsStep:4, modStep:10,
   models:{'MMM':p3_mmm,'M05':p3_m05,'MLR':p3_mlr,'RF':p3_rf,'RF+':p3_rfp,'XGB':p3_xgb,'XGB+':p3_xgbp},
   xmin:-6.5, xmax:735, ymin:-11.4, ymax:7.57, canvasTop:353, areaTop:354, areaBottom:499, legY:[516.5,525.5]},
  {start:2009, ticks:p4_ticks, obs:p4_obs, obsB:p4_obsB, obsStep:6, modStep:15,
   models:{'MMM':p4_mmm,'M05':p4_m05,'MLR':p4_mlr,'RF':p4_rf,'RF+':p4_rfp,'XGB':p4_xgb,'XGB+':p4_xgbp},
   xmin:-13, xmax:1108, ymin:-12.3, ymax:9.6, canvasTop:529, areaTop:530, areaBottom:676, legY:[692,701]}
];

Chart.defaults.font.family = '"Liberation Sans", Arial, sans-serif';
const DAY = 86400000;
function dayOf(startYear, s){ const [y,m,d]=s.split('-').map(Number); return Math.round((Date.UTC(y,m-1,d)-Date.UTC(startYear,0,1))/DAY); }
function fmt(s){ const [y,m,d]=s.split('-'); return d+'-'+m+'-'+y; }

const frame = {id:'frame', afterDatasetsDraw(c){
  const a=c.chartArea, x=c.ctx; x.save(); x.strokeStyle='#bdbdbd'; x.lineWidth=1;
  x.strokeRect(Math.round(a.left)+0.5, Math.round(a.top)+0.5, Math.round(a.right)-Math.round(a.left)-1, Math.round(a.bottom)-Math.round(a.top)-1);
  x.restore(); }};

function makePanel(p){
  const h = p.areaBottom - p.canvasTop + 11;
  const cv = document.createElement('canvas');
  cv.width = 320; cv.height = h;
  cv.style.top = p.canvasTop+'px'; cv.style.width='320px'; cv.style.height=h+'px';
  document.body.appendChild(cv);
  const majors = p.ticks.map(s=>dayOf(p.start,s));
  const labels = {}; p.ticks.forEach((s,i)=>{ labels[majors[i]] = fmt(s); });
  const minors = [];
  for (let i=0;i<majors.length-1;i++) minors.push((majors[i]+majors[i+1])/2);
  const g0 = majors[1]-majors[0];
  if (majors[0]-g0/2 > p.xmin) minors.push(majors[0]-g0/2);
  const gl = majors[majors.length-1]-majors[majors.length-2];
  if (majors[majors.length-1]+gl/2 < p.xmax) minors.push(majors[majors.length-1]+gl/2);
  const xt = majors.concat(minors).sort((a,b)=>a-b);
  const isMajorX = v => labels[v] !== undefined;

  const datasets = drawOrder.map(name=>{
    const st = seriesStyle[name];
    if (name==='Obs') {
      const pts = p.obs.map((v,k)=>({x:k*p.obsStep, y:v}))
        .concat(p.obsB.map((v,k)=>({x:k*p.obsStep+p.obsStep/2, y:v})));
      return {label:name, data:pts, showLine:false, pointRadius:1.25, pointHoverRadius:1.25,
        pointBackgroundColor:st.color, pointBorderWidth:0, borderColor:st.color};
    }
    return {label:name, data:p.models[name].map((v,i)=>({x:i*p.modStep, y:v})),
      borderColor:st.color, borderWidth: st.kind==='dash'?1:0.9, borderDash: st.kind==='dash'?[3,2]:[],
      pointRadius:0, tension:0, fill:false};
  });

  new Chart(cv, {type:'line', data:{datasets}, plugins:[frame], options:{
    responsive:false, animation:false, devicePixelRatio:1, events:[],
    layout:{padding:{top:p.areaTop-p.canvasTop, right:7, left:0, bottom:0}},
    plugins:{legend:{display:false}, tooltip:{enabled:false}},
    scales:{
      x:{type:'linear', min:p.xmin, max:p.xmax,
        afterBuildTicks:s=>{ s.ticks = xt.map(v=>({value:v})); },
        afterFit:s=>{ s.height = 11; },
        ticks:{autoSkip:false, maxRotation:0, minRotation:0, padding:0.5, font:{size:6}, color:'#4d4d4d',
          callback:v=>labels[v]||''},
        grid:{color:c=>(c.tick&&isMajorX(c.tick.value))?'#e3e3e3':'#f0f0f0',
          lineWidth:c=>(c.tick&&isMajorX(c.tick.value))?0.8:0.6,
          tickLength:2, tickColor:c=>(c.tick&&isMajorX(c.tick.value))?'#b3b3b3':'rgba(0,0,0,0)'},
        border:{display:false}},
      y:{min:p.ymin, max:p.ymax,
        afterBuildTicks:s=>{ const t=[]; for(let v=Math.ceil(p.ymin); v<=Math.floor(p.ymax); v++) t.push({value:v}); s.ticks=t; },
        afterFit:s=>{ s.width = 24.5; },
        ticks:{autoSkip:false, padding:1, font:{size:6}, color:'#4d4d4d',
          callback:v=>(v%2===0)?String(v):''},
        grid:{color:c=>(c.tick&&c.tick.value%2===0)?'#e3e3e3':'#f0f0f0',
          lineWidth:c=>(c.tick&&c.tick.value%2===0)?0.8:0.6,
          tickLength:2, tickColor:c=>(c.tick&&c.tick.value%2===0)?'#b3b3b3':'rgba(0,0,0,0)'},
        border:{display:false},
        title:{display:true, text:'NEE [g C m⁻² d⁻¹]', font:{size:7}, color:'#1a1a1a', padding:{top:2.5,bottom:0}}}
    }
  }});

  // legend (HTML)
  legendRows.forEach((row,r)=>row.forEach((name,c)=>{
    const st = seriesStyle[name], y = p.legY[r];
    let shape;
    if (st.kind==='point') shape = '<circle cx="10" cy="3" r="1.7" fill="'+st.color+'"/>';
    else if (st.kind==='dash') shape = '<line x1="0" y1="3" x2="20" y2="3" stroke="'+st.color+'" stroke-width="1.2" stroke-dasharray="4.7 8.7"/>';
    else shape = '<line x1="0" y1="3" x2="20" y2="3" stroke="'+st.color+'" stroke-width="1.2"/>';
    const k = document.createElement('div'); k.className='lk';
    k.style.left = legendKeyX[c]+'px'; k.style.top = (y-3)+'px';
    k.innerHTML = '<svg width="20" height="6" xmlns="http://www.w3.org/2000/svg">'+shape+'</svg>';
    document.body.appendChild(k);
    const t = document.createElement('div'); t.className='lg';
    t.style.left = legendTextX[c]+'px'; t.style.top = (y-4)+'px'; t.textContent = name;
    document.body.appendChild(t);
  }));
}
panels.forEach(makePanel);
</script>
</body></html>
